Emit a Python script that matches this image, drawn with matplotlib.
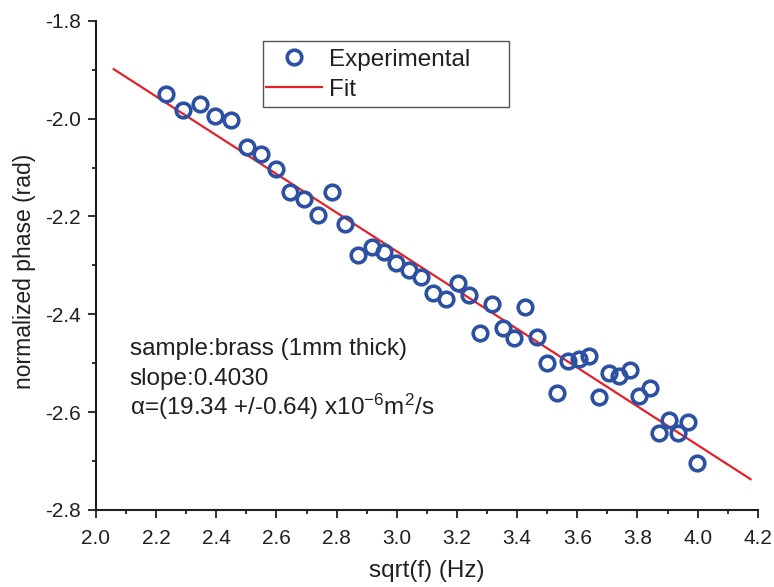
import matplotlib
matplotlib.use("Agg")
import matplotlib.pyplot as plt
from matplotlib.ticker import MultipleLocator
from matplotlib.patches import Rectangle

plt.rcParams['font.family'] = ['Liberation Sans', 'DejaVu Sans']
plt.rcParams['mathtext.fontset'] = 'custom'
plt.rcParams['mathtext.rm'] = 'Liberation Sans'
plt.rcParams['mathtext.default'] = 'regular'

x_exp = [2.233, 2.290, 2.346, 2.397, 2.448, 2.501, 2.548, 2.598, 2.645, 2.692,
         2.739, 2.783, 2.828, 2.872, 2.916, 2.957, 2.999, 3.041, 3.080, 3.121,
         3.163, 3.202, 3.241, 3.278, 3.315, 3.353, 3.389, 3.425, 3.465, 3.500,
         3.531, 3.570, 3.606, 3.639, 3.673, 3.706, 3.739, 3.775, 3.806, 3.841,
         3.871, 3.905, 3.935, 3.968, 3.998]
y_exp = [-1.950, -1.982, -1.971, -1.994, -2.003, -2.058, -2.072, -2.104, -2.151, -2.165,
         -2.197, -2.151, -2.215, -2.279, -2.263, -2.272, -2.295, -2.310, -2.323, -2.356,
         -2.369, -2.337, -2.361, -2.438, -2.379, -2.429, -2.449, -2.386, -2.446, -2.499,
         -2.560, -2.495, -2.492, -2.485, -2.570, -2.519, -2.526, -2.514, -2.568, -2.551,
         -2.643, -2.617, -2.643, -2.621, -2.703]
fit_x = [2.059, 4.176]
fit_y = [-1.899, -2.737]

x_ticks = [2.0, 2.2, 2.4, 2.6, 2.8, 3.0, 3.2, 3.4, 3.6, 3.8, 4.0, 4.2]
y_ticks = [-2.8, -2.6, -2.4, -2.2, -2.0, -1.8]

annot_lines = ["sample:brass (1mm thick)", "slope:0.4030",
               "\u03b1=(19.34 +/-0.64) x10$^{-6}$m$^{2}$/s"]

txt = '#231F20'
blue = '#2B50A4'
red = '#E8202A'

fig = plt.figure(figsize=(7.74, 5.87), dpi=100)
ax = fig.add_axes([0.124, 0.1312, 0.855, 0.8335])

ax.plot(fit_x, fit_y, color=red, lw=1.6, label='Fit', zorder=2)
ax.plot(x_exp, y_exp, linestyle='none', marker='o', markersize=10.5,
        markerfacecolor='none', markeredgecolor=blue, markeredgewidth=2.6,
        label='Experimental', zorder=3)

ax.set_xlim(2.0, 4.2)
ax.set_ylim(-2.8, -1.8)
ax.set_xticks(x_ticks)
ax.set_yticks(y_ticks)
ax.set_xticklabels([f"{v:.1f}" for v in x_ticks])
ax.set_yticklabels([f"{v:.1f}" for v in y_ticks])
ax.xaxis.set_minor_locator(MultipleLocator(0.1))
ax.yaxis.set_minor_locator(MultipleLocator(0.1))

for s in ['top', 'right']:
    ax.spines[s].set_visible(False)
for s in ['left', 'bottom']:
    ax.spines[s].set_linewidth(1.5)
    ax.spines[s].set_color(txt)

ax.tick_params(which='major', direction='out', length=6, width=1.3,
               labelsize=15, colors=txt)
ax.tick_params(axis='x', which='major', pad=7.5)
ax.tick_params(axis='y', which='major', pad=5)
ax.tick_params(which='minor', direction='out', length=3, width=1.3, colors=txt)

ax.set_xlabel('sqrt(f) (Hz)', fontsize=17.5, color=txt, labelpad=9)
ax.set_ylabel('normalized phase (rad)', fontsize=16.5, color=txt, labelpad=6)
ax.yaxis.label.set_y(0.488)

handles, labels = ax.get_legend_handles_labels()
leg = ax.legend(handles[::-1], labels[::-1], loc='upper left',
                bbox_to_anchor=(0.246, 0.958), fontsize=17.5, frameon=False,
                handlelength=2.3, handletextpad=0.3, borderpad=0.3,
                labelspacing=0.33, borderaxespad=0)
for t in leg.get_texts():
    t.set_color(txt)

fig.patches.append(Rectangle((263 / 774, 1 - 107 / 587), 246 / 774, 66 / 587,
                             transform=fig.transFigure, fill=False,
                             edgecolor='#555555', linewidth=1.0))

for i, line in enumerate(annot_lines):
    ax.text(0.051, 0.317 - i * 0.0615, line, transform=ax.transAxes,
            fontsize=17.5, color=txt, va='baseline', ha='left')

fig.savefig('out.png', dpi=100)
